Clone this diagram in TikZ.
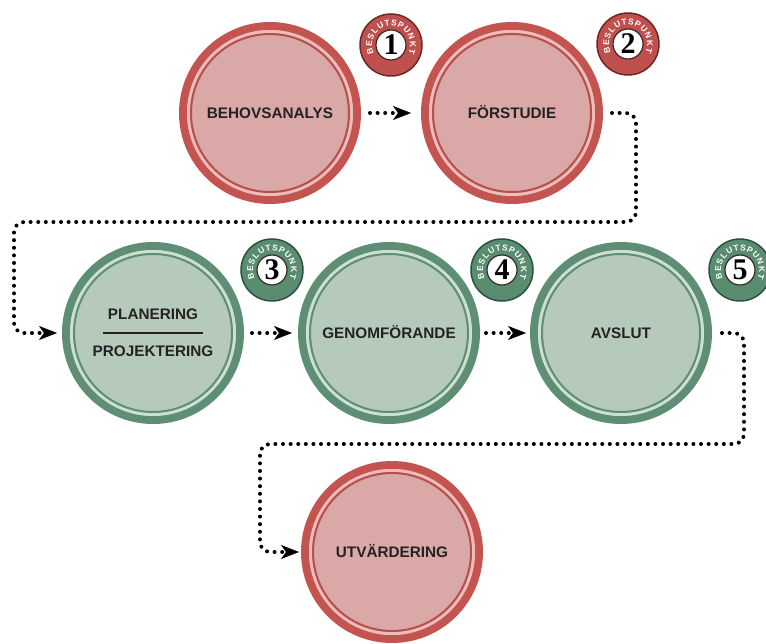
\documentclass[tikz,border=0pt]{standalone}
\usepackage{fontspec}
\setmainfont{Liberation Sans}
\newfontfamily\numfont{Liberation Serif}
\usetikzlibrary{arrows.meta,decorations.text}
\definecolor{redring}{HTML}{C45450}
\definecolor{redfill}{HTML}{D9A8A7}
\definecolor{redgap}{HTML}{ECBDBA}
\definecolor{redline}{HTML}{B84E4B}
\definecolor{greenring}{HTML}{5E8E74}
\definecolor{greenfill}{HTML}{B5CABB}
\definecolor{greengap}{HTML}{CDDFD2}
\definecolor{greenline}{HTML}{5E8E74}
\definecolor{redband}{HTML}{C0504D}
\definecolor{redbadgeedge}{HTML}{6E2725}
\definecolor{greenband}{HTML}{5A8C70}
\definecolor{greenbadgeedge}{HTML}{2C5140}
\definecolor{badgeinner}{HTML}{3A2A2A}
\definecolor{txt}{HTML}{262223}
\newcommand\stagerings[3]{%
  \draw[#2, line width=3pt] (#1.center) circle[radius=81.5pt];
  \draw[#3, line width=2pt] (#1.center) circle[radius=79pt];}
\newcommand\badgetext[1]{%
  \path[decorate, decoration={text along path,
    text={|\bfseries\fontsize{8.4}{8.4}\selectfont\color{white}|BESLUTSPUNKT},
    text align={fit to path}}]
    ([shift={(205:19pt)}]#1.center) arc[start angle=205, end angle=-25, radius=19pt];}
\tikzset{
  stage/.style={circle, minimum size=174pt, inner sep=0pt, line width=8pt,
    font=\bfseries\fontsize{15.3}{18}\selectfont, text=txt, align=center},
  redstage/.style={stage, draw=redring, fill=redfill},
  greenstage/.style={stage, draw=greenring, fill=greenfill},
  oneline/.style={text height=10.8pt, text depth=0pt},
  badge/.style={circle, minimum size=62pt, inner sep=0pt, line width=1.5pt,
    font=\numfont\bfseries\fontsize{30}{30}\selectfont, text=black},
  redbadge/.style={badge, draw=redbadgeedge, fill=redband,
    path picture={\draw[draw=badgeinner, fill=white, line width=1.2pt]
      (path picture bounding box.center) circle[radius=15pt];}},
  greenbadge/.style={badge, draw=greenbadgeedge, fill=greenband,
    path picture={\draw[draw=badgeinner, fill=white, line width=1.2pt]
      (path picture bounding box.center) circle[radius=15pt];}},
  conn/.style={line width=4pt, line cap=round, dash pattern=on 0pt off 7.6pt,
    -{Stealth[length=18pt,width=14pt,inset=5pt,line width=0.5pt]}},
}
\begin{document}
\begin{tikzpicture}[x=1pt,y=1pt]
\useasboundingbox (0,0) rectangle (766,643);
\fill[white] (0,0) rectangle (766,643);
% stages
\node[redstage, oneline] (behov) at (270,530) {BEHOVSANALYS};
\stagerings{behov}{redgap}{redline}
\node[redstage, oneline] (forst) at (512,530) {FÖRSTUDIE};
\stagerings{forst}{redgap}{redline}
\node[greenstage] (plan) at (153,310) {PLANERING\\[-4pt]{\color{txt}\rule{100pt}{2.2pt}}\\[5pt]PROJEKTERING};
\stagerings{plan}{greengap}{greenline}
\node[greenstage, oneline] (genom) at (389,310) {GENOMFÖRANDE};
\stagerings{genom}{greengap}{greenline}
\node[greenstage, oneline] (avslut) at (621,310) {AVSLUT};
\stagerings{avslut}{greengap}{greenline}
\node[redstage, oneline] (utv) at (392,91) {UTVÄRDERING};
\stagerings{utv}{redgap}{redline}
% badges
\node[redbadge] (b1) at (391,598) {1};
\badgetext{b1}
\node[redbadge] (b2) at (628,599) {2};
\badgetext{b2}
\node[greenbadge] (b3) at (272,373) {3};
\badgetext{b3}
\node[greenbadge] (b4) at (502,373) {4};
\badgetext{b4}
\node[greenbadge] (b5) at (740,373) {5};
\badgetext{b5}
% connectors
\coordinate (k1) at (636,421);
\coordinate (k2) at (14,421);
\coordinate (k3) at (744,199);
\coordinate (k4) at (260,199);
\draw[conn, shorten <=9pt, shorten >=10pt] (behov) -- (forst);
\draw[conn, rounded corners=10pt, shorten <=9pt, shorten >=5pt] (forst.east) -| (k1) -- (k2) |- (plan.west);
\draw[conn, shorten <=8pt, shorten >=6pt] (plan) -- (genom);
\draw[conn, shorten <=6pt, shorten >=4pt] (genom) -- (avslut);
\draw[conn, rounded corners=10pt, shorten <=10pt, shorten >=2pt] (avslut.east) -| (k3) -- (k4) |- (utv.west);
\end{tikzpicture}
\end{document}
